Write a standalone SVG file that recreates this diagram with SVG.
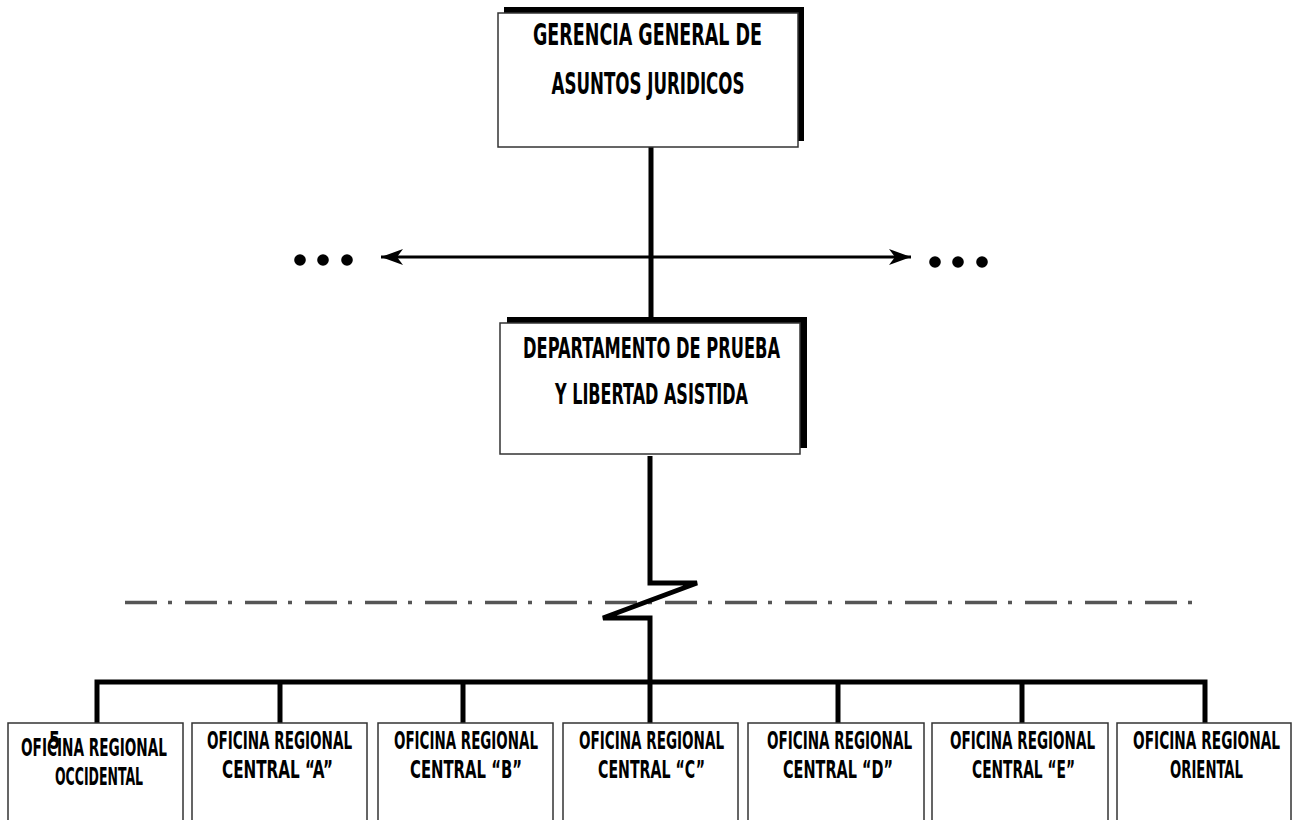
<svg xmlns="http://www.w3.org/2000/svg" width="1300" height="820" viewBox="0 0 1300 820">
<defs>
<style>
.box{fill:#fff;stroke:#333;stroke-width:1.5}
.shadow{fill:#000}
.t{font-family:"DejaVu Sans Condensed","DejaVu Sans",sans-serif;font-weight:bold;fill:#000;text-anchor:middle}
.t1{font-size:31px}
.t2{font-size:28.5px}
.t3{font-size:25px}
.conn{fill:none;stroke:#000;stroke-width:5;stroke-linejoin:miter;stroke-linecap:butt}
.arrow{fill:none;stroke:#000;stroke-width:2.8}
.dashdot{fill:none;stroke:#555;stroke-width:3.5;stroke-dasharray:32 11 4 13}
</style>
<marker id="ah" viewBox="0 0 22 16" refX="22" refY="8" markerWidth="22" markerHeight="16" markerUnits="userSpaceOnUse" orient="auto-start-reverse">
<path d="M0,0 L22,8 L0,16 L6,8 Z" fill="#000"/>
</marker>
</defs>
<rect width="1300" height="820" fill="#fff"/>

<line class="dashdot" x1="125" y1="602.5" x2="1196" y2="602.5"/>

<g id="connectors">
<line class="conn" x1="651" y1="147" x2="651" y2="323"/>
<line class="arrow" x1="381" y1="257" x2="911" y2="257" marker-start="url(#ah)" marker-end="url(#ah)"/>
<path class="conn" d="M650,456 V583 H697 L603,618 H650 V682"/>
<path class="conn" d="M97,723 V682 H1205 V723"/>
<line class="conn" x1="280" y1="682" x2="280" y2="723"/>
<line class="conn" x1="463" y1="682" x2="463" y2="723"/>
<line class="conn" x1="650" y1="682" x2="650" y2="723"/>
<line class="conn" x1="838" y1="682" x2="838" y2="723"/>
<line class="conn" x1="1022" y1="682" x2="1022" y2="723"/>
</g>

<g id="dots-left">
<circle cx="300" cy="260" r="5.8"/>
<circle cx="323" cy="260" r="5.8"/>
<circle cx="347" cy="260" r="5.8"/>
</g>
<g id="dots-right">
<circle cx="935" cy="262" r="5.8"/>
<circle cx="958" cy="262" r="5.8"/>
<circle cx="982" cy="262" r="5.8"/>
</g>

<g id="gerencia">
<rect class="shadow" x="504" y="7" width="300" height="134"/>
<rect class="box" x="498" y="13" width="300" height="134"/>
<text class="t t1" transform="translate(647.5,45) scale(0.6,1)" x="0" y="0" textLength="381.7" lengthAdjust="spacingAndGlyphs">GERENCIA GENERAL DE</text>
<text class="t t1" transform="translate(648,94) scale(0.6,1)" x="0" y="0" textLength="321.7" lengthAdjust="spacingAndGlyphs">ASUNTOS JURIDICOS</text>
</g>

<g id="departamento">
<rect class="shadow" x="507" y="317" width="300" height="131"/>
<rect class="box" x="500" y="323" width="300" height="131"/>
<text class="t t2" transform="translate(651.5,358) scale(0.6,1)" x="0" y="0" textLength="428.3" lengthAdjust="spacingAndGlyphs">DEPARTAMENTO DE PRUEBA</text>
<text class="t t2" transform="translate(651.5,404) scale(0.6,1)" x="0" y="0" textLength="321.7" lengthAdjust="spacingAndGlyphs">Y LIBERTAD ASISTIDA</text>
</g>

<g id="occidental">
<rect class="box" x="8" y="723" width="175" height="120"/>
<text class="t t3" transform="translate(54.5,749) scale(0.6,1)" x="0" y="0" textLength="18.3" lengthAdjust="spacingAndGlyphs">5</text>
<text class="t t3" transform="translate(94,756) scale(0.6,1)" x="0" y="0" textLength="243.3" lengthAdjust="spacingAndGlyphs">OFICINA REGIONAL</text>
<text class="t t3" transform="translate(99,785) scale(0.6,1)" x="0" y="0" textLength="146.7" lengthAdjust="spacingAndGlyphs">OCCIDENTAL</text>
</g>

<g id="central-a">
<rect class="box" x="192" y="723" width="175" height="120"/>
<text class="t t3" transform="translate(279.5,749) scale(0.6,1)" x="0" y="0" textLength="241.7" lengthAdjust="spacingAndGlyphs">OFICINA REGIONAL</text>
<text class="t t3" transform="translate(277.5,778) scale(0.6,1)" x="0" y="0" textLength="185" lengthAdjust="spacingAndGlyphs">CENTRAL “A”</text>
</g>

<g id="central-b">
<rect class="box" x="378" y="723" width="175" height="120"/>
<text class="t t3" transform="translate(466,749) scale(0.6,1)" x="0" y="0" textLength="240" lengthAdjust="spacingAndGlyphs">OFICINA REGIONAL</text>
<text class="t t3" transform="translate(466,778) scale(0.6,1)" x="0" y="0" textLength="186.7" lengthAdjust="spacingAndGlyphs">CENTRAL “B”</text>
</g>

<g id="central-c">
<rect class="box" x="563" y="723" width="175" height="120"/>
<text class="t t3" transform="translate(651.5,749) scale(0.6,1)" x="0" y="0" textLength="241.7" lengthAdjust="spacingAndGlyphs">OFICINA REGIONAL</text>
<text class="t t3" transform="translate(651.5,778) scale(0.6,1)" x="0" y="0" textLength="178.3" lengthAdjust="spacingAndGlyphs">CENTRAL “C”</text>
</g>

<g id="central-d">
<rect class="box" x="748" y="723" width="176" height="120"/>
<text class="t t3" transform="translate(839.5,749) scale(0.6,1)" x="0" y="0" textLength="241.7" lengthAdjust="spacingAndGlyphs">OFICINA REGIONAL</text>
<text class="t t3" transform="translate(838,778) scale(0.6,1)" x="0" y="0" textLength="183.3" lengthAdjust="spacingAndGlyphs">CENTRAL “D”</text>
</g>

<g id="central-e">
<rect class="box" x="932" y="723" width="176" height="120"/>
<text class="t t3" transform="translate(1022.5,749) scale(0.6,1)" x="0" y="0" textLength="241.7" lengthAdjust="spacingAndGlyphs">OFICINA REGIONAL</text>
<text class="t t3" transform="translate(1023.5,778) scale(0.6,1)" x="0" y="0" textLength="171.7" lengthAdjust="spacingAndGlyphs">CENTRAL “E”</text>
</g>

<g id="oriental">
<rect class="box" x="1117" y="723" width="174" height="120"/>
<text class="t t3" transform="translate(1206.5,749) scale(0.6,1)" x="0" y="0" textLength="245" lengthAdjust="spacingAndGlyphs">OFICINA REGIONAL</text>
<text class="t t3" transform="translate(1206.5,778) scale(0.6,1)" x="0" y="0" textLength="121.7" lengthAdjust="spacingAndGlyphs">ORIENTAL</text>
</g>
</svg>
